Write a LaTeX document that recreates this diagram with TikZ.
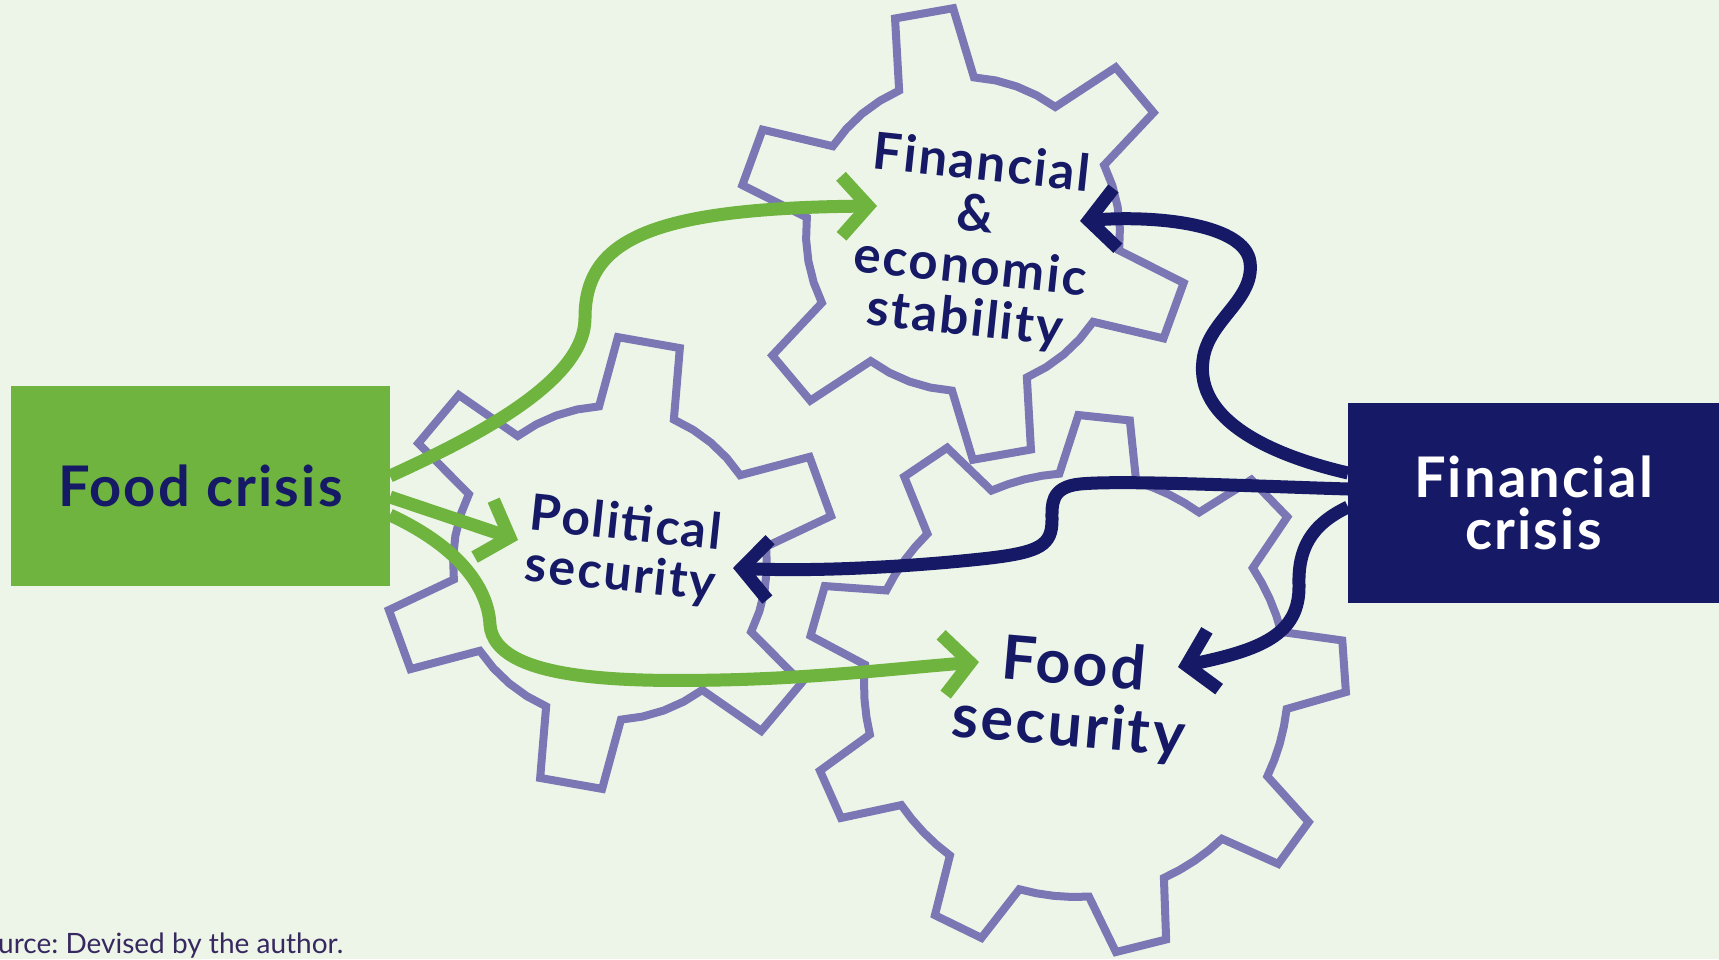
\documentclass[tikz,border=0pt]{standalone}
\usepackage{fontspec}
\setmainfont{Lato}
\newfontfamily\labfont[LetterSpace=4]{Lato}
\usetikzlibrary{arrows.meta,calc}
\definecolor{bgc}{RGB}{237,245,233}
\definecolor{grn}{RGB}{110,180,62}
\definecolor{nvy}{RGB}{22,26,102}
\definecolor{gearc}{RGB}{123,119,180}
\definecolor{srcc}{RGB}{55,40,95}
\tikzset{
  gearline/.style={draw=gearc, line width=8pt, line join=miter},
  boxnode/.style={inner sep=0pt, outer sep=0pt, minimum height=200pt, align=center,
     font=\labfont\fontsize{56pt}{52pt}\selectfont\bfseries},
  lab/.style={text=nvy, align=center, inner sep=0pt},
  gconn/.style={draw=grn, line width=13pt, -{Straight Barb[length=27pt,width=60pt]}},
  nconn/.style={draw=nvy, line width=13pt, -{Straight Barb[length=27pt,width=60pt]}},
}
% #1 cx, #2 cy, #3 root radius, #4 tip radius, #5 teeth, #6 offset, #7 half tip angle, #8 half base angle
\newcommand\geardraw[8]{%
  \pgfmathsetmacro\gearP{360/#5}%
  \pgfmathtruncatemacro\gearN{#5-1}%
  \pgfmathsetmacro\gearS{(\gearP-2*#8)/4}%
  \draw[gearline] ({#1+#3*cos(#6+#8)},{#2-#3*sin(#6+#8)})
    \foreach \k in {0,...,\gearN}{
      -- ({#1+#4*cos(#6-\k*\gearP+#7)},{#2-#4*sin(#6-\k*\gearP+#7)})
      -- ({#1+#4*cos(#6-\k*\gearP-#7)},{#2-#4*sin(#6-\k*\gearP-#7)})
      -- ({#1+#3*cos(#6-\k*\gearP-#8)},{#2-#3*sin(#6-\k*\gearP-#8)})
      \foreach \j in {1,2,3,4}{
        -- ({#1+#3*cos(#6-\k*\gearP-#8-\j*\gearS)},{#2-#3*sin(#6-\k*\gearP-#8-\j*\gearS)})
      }
    } -- cycle;
}
\begin{document}
\begin{tikzpicture}[x=1pt,y=-1pt]
\useasboundingbox (0,0) rectangle (1719,959);
\fill[bgc] (0,0) rectangle (1719,959);

% gears
\geardraw{963}{234}{157}{226}{6}{40}{7.5}{14}
\geardraw{610}{563}{157}{226}{6}{20}{8}{14}
\geardraw{1076}{685}{212}{270}{9}{4}{5.5}{10.5}

% boxes
\node[boxnode, fill=grn, text=nvy, minimum width=379pt] (fc) at (200.5,486) {Food crisis};
\node[boxnode, fill=nvy, text=white, minimum width=371pt] (fcr) at (1533.5,503) {Financial\\crisis};

% gear labels
\node[lab, rotate=-6, font=\labfont\fontsize{51pt}{52pt}\selectfont\bfseries] (fes) at (973,243) {Financial\\\&\\economic\\stability};
\node[lab, rotate=-6, font=\labfont\fontsize{50pt}{51pt}\selectfont\bfseries] (ps) at (623,551) {Political\\security};
\node[lab, rotate=-5, font=\labfont\fontsize{61pt}{62pt}\selectfont\bfseries] (fs) at (1071,698) {Food\\security};

% source
\node[anchor=base west, inner sep=0pt, text=srcc, font=\fontsize{28pt}{32pt}\selectfont\frenchspacing] (src) at (-2,953) {urce: Devised by the author.};

% arrow tips
\coordinate (t1) at (877,206);
\coordinate (t2) at (518,540);
\coordinate (t3) at (979,662);
\coordinate (t4) at (1080,221);
\coordinate (t5) at (733,568);
\coordinate (t6) at (1178,667);

% green connectors
\draw[gconn] ($(fc.east)+(0,-10)$) .. controls (480,435) and (585,380) .. (585,318)
   .. controls (585,240) and (650,208) .. (t1);
\draw[gconn] ($(fc.east)+(0,11)$) -- (t2);
\draw[gconn] ($(fc.east)+(0,29)$) .. controls (455,545) and (488,585) .. (490,625)
   .. controls (495,680) and (620,682) .. (720,680)
   .. controls (820,678) and (900,668) .. (t3);

% navy connectors
\draw[nconn] ($(fcr.west)+(0,-30)$) .. controls (1270,455) and (1195,420) .. (1203,360)
   .. controls (1208,320) and (1255,300) .. (1250,262)
   .. controls (1245,225) and (1160,215) .. (t4);
\draw[nconn] ($(fcr.west)+(0,-14)$) .. controls (1250,486) and (1120,480) .. (1080,484)
   .. controls (1050,487) and (1052,505) .. (1052,520)
   .. controls (1052,545) and (1040,552) .. (990,558)
   .. controls (920,566) and (820,572) .. (t5);
\draw[nconn] ($(fcr.west)+(0,4)$) .. controls (1310,525) and (1298,550) .. (1299,585)
   .. controls (1300,635) and (1260,650) .. (t6);
\end{tikzpicture}
\end{document}
